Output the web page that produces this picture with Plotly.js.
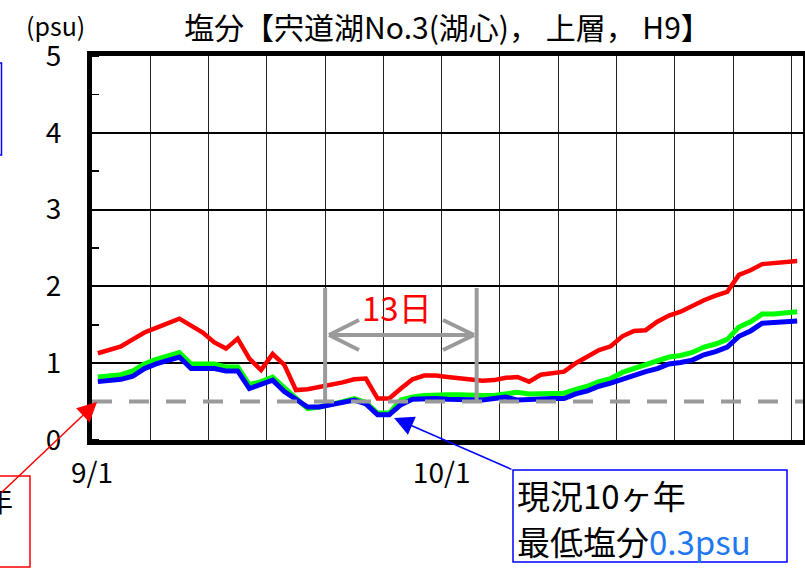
<!DOCTYPE html>
<html>
<head>
<meta charset="utf-8">
<script src="https://cdn.plot.ly/plotly-3.0.1.min.js"></script>
<style>html,body{margin:0;padding:0;background:#fff;}</style>
</head>
<body>
<div id="chart" style="width:805px;height:568px;"></div>
<script>
// Days 9/1 .. 10/31 (H9 = 1997)
const dates = [
 '1997-09-01','1997-09-02','1997-09-03','1997-09-04','1997-09-05','1997-09-06','1997-09-07','1997-09-08','1997-09-09','1997-09-10',
 '1997-09-11','1997-09-12','1997-09-13','1997-09-14','1997-09-15','1997-09-16','1997-09-17','1997-09-18','1997-09-19','1997-09-20',
 '1997-09-21','1997-09-22','1997-09-23','1997-09-24','1997-09-25','1997-09-26','1997-09-27','1997-09-28','1997-09-29','1997-09-30',
 '1997-10-01','1997-10-02','1997-10-03','1997-10-04','1997-10-05','1997-10-06','1997-10-07','1997-10-08','1997-10-09','1997-10-10',
 '1997-10-11','1997-10-12','1997-10-13','1997-10-14','1997-10-15','1997-10-16','1997-10-17','1997-10-18','1997-10-19','1997-10-20',
 '1997-10-21','1997-10-22','1997-10-23','1997-10-24','1997-10-25','1997-10-26','1997-10-27','1997-10-28','1997-10-29','1997-10-30',
 '1997-10-31'
];
const redSeries = [
 1.13,1.17,1.22,1.31,1.40,1.46,1.52,1.58,1.49,1.40,
 1.27,1.19,1.32,1.06,0.91,1.12,0.98,0.65,0.66,0.69,
 0.71,0.75,0.79,0.80,0.54,0.54,0.67,0.79,0.84,0.84,
 0.82,0.80,0.78,0.77,0.78,0.81,0.82,0.76,0.85,0.87,
 0.89,1.00,1.08,1.17,1.22,1.35,1.42,1.43,1.54,1.62,
 1.67,1.75,1.82,1.88,1.93,2.15,2.21,2.29,2.30,2.32,
 2.33
];
const greenSeries = [
 0.82,0.83,0.85,0.90,0.99,1.05,1.10,1.14,0.99,0.99,
 0.99,0.95,0.95,0.72,0.76,0.82,0.69,0.54,0.41,0.43,
 0.46,0.50,0.54,0.49,0.35,0.35,0.52,0.56,0.58,0.59,
 0.59,0.59,0.58,0.58,0.58,0.60,0.62,0.60,0.60,0.60,
 0.61,0.66,0.70,0.76,0.80,0.88,0.93,0.97,1.03,1.08,
 1.10,1.14,1.21,1.25,1.31,1.47,1.54,1.64,1.64,1.65,
 1.67
];
const blueSeries = [
 0.76,0.78,0.79,0.83,0.93,0.99,1.04,1.08,0.93,0.93,
 0.93,0.90,0.90,0.67,0.72,0.78,0.63,0.52,0.43,0.43,
 0.46,0.50,0.52,0.47,0.33,0.33,0.46,0.53,0.54,0.54,
 0.53,0.53,0.53,0.52,0.54,0.56,0.52,0.53,0.53,0.54,
 0.54,0.60,0.64,0.70,0.74,0.79,0.85,0.89,0.93,0.99,
 1.01,1.04,1.11,1.15,1.21,1.35,1.42,1.52,1.53,1.54,
 1.55
];
const gridDates = ['1997-09-01','1997-09-06','1997-09-11','1997-09-16','1997-09-21','1997-09-26',
 '1997-10-01','1997-10-06','1997-10-11','1997-10-16','1997-10-21','1997-10-26','1997-10-31'];
const gridLabels = ['9/1','','','','','','10/1','','','','','',''];
const yTicks = [0,1,2,3,4,5];
const threshold = 0.5;
const spanStart = '1997-09-21';
const spanEnd = '1997-10-04';

const FONT = '"Noto Sans CJK JP", "Noto Sans", sans-serif';
// plot area in pixels: left 92, right 803, top 56, bottom 440
const L = 92, R = 803, T = 56, B = 440;
const px = x => (x - L) / (R - L);
const py = y => (B - y) / (B - T);

const common = {x: dates, mode: 'lines', xperiod: 86400000, xperiodalignment: 'middle',
  hoverinfo: 'skip', showlegend: false};
const traces = [
  Object.assign({}, common, {y: redSeries, line: {color: '#ff0000', width: 4.5}}),
  Object.assign({}, common, {y: greenSeries, line: {color: '#00ff00', width: 5}}),
  Object.assign({}, common, {y: blueSeries, line: {color: '#0000ff', width: 5}})
];

const gray = '#9a9a9a';
const shapes = [
  // threshold dashed line
  {type: 'line', xref: 'paper', x0: 0, x1: 1, yref: 'y', y0: threshold, y1: threshold,
   line: {color: gray, width: 4, dash: '20px,17px'}},
  // 13-day bracket verticals
  {type: 'line', xref: 'x', x0: spanStart, x1: spanStart, yref: 'paper', y0: py(402), y1: py(288),
   line: {color: gray, width: 4}},
  {type: 'line', xref: 'x', x0: spanEnd, x1: spanEnd, yref: 'paper', y0: py(402), y1: py(288),
   line: {color: gray, width: 4}},
  // horizontal double arrow
  {type: 'line', xref: 'paper', yref: 'paper', x0: px(330), x1: px(473), y0: py(335), y1: py(335),
   line: {color: gray, width: 4}},
  {type: 'line', xref: 'paper', yref: 'paper', x0: px(329), x1: px(359), y0: py(335), y1: py(320),
   line: {color: gray, width: 4}},
  {type: 'line', xref: 'paper', yref: 'paper', x0: px(329), x1: px(359), y0: py(335), y1: py(350),
   line: {color: gray, width: 4}},
  {type: 'line', xref: 'paper', yref: 'paper', x0: px(474), x1: px(443), y0: py(335), y1: py(320),
   line: {color: gray, width: 4}},
  {type: 'line', xref: 'paper', yref: 'paper', x0: px(474), x1: px(443), y0: py(335), y1: py(350),
   line: {color: gray, width: 4}},
  // blue box top-left (cut off)
  {type: 'rect', xref: 'paper', yref: 'paper', x0: px(-60), x1: px(1.5), y0: py(155), y1: py(63),
   line: {color: '#0000ff', width: 1.5}, fillcolor: 'rgba(0,0,0,0)'},
  // red box bottom-left (cut off)
  {type: 'rect', xref: 'paper', yref: 'paper', x0: px(-60), x1: px(30), y0: py(567), y1: py(476),
   line: {color: '#ff0000', width: 1.5}, fillcolor: 'rgba(0,0,0,0)'},
  // blue box bottom-right
  {type: 'rect', xref: 'paper', yref: 'paper', x0: px(513), x1: px(787), y0: py(562), y1: py(470),
   line: {color: '#0000ff', width: 1.5}, fillcolor: 'rgba(0,0,0,0)'}
];

const annotations = [
  {text: '(psu)', xref: 'paper', yref: 'paper', x: px(55), y: py(25), xanchor: 'center', yanchor: 'middle',
   showarrow: false, font: {family: FONT, size: 25, color: '#000'}},
  {text: '13日', xref: 'paper', yref: 'paper', x: px(397), y: py(307), xanchor: 'center', yanchor: 'middle',
   showarrow: false, font: {family: FONT, size: 33, color: '#ff0000'}},
  {text: '年', xref: 'paper', yref: 'paper', x: px(15), y: py(500), xanchor: 'right', yanchor: 'middle',
   showarrow: false, font: {family: FONT, size: 28, color: '#000'}},
  {text: '現況10ヶ年', xref: 'paper', yref: 'paper',
   x: px(515), y: py(495), xanchor: 'left', yanchor: 'middle', align: 'left', showarrow: false,
   font: {family: FONT, size: 33, color: '#000'}},
  {text: '最低塩分<span style="color:#1e78f0">0.3psu</span>', xref: 'paper', yref: 'paper',
   x: px(515), y: py(541), xanchor: 'left', yanchor: 'middle', align: 'left', showarrow: false,
   font: {family: FONT, size: 33, color: '#000'}},
  // red arrow
  {text: '', xref: 'paper', yref: 'paper', x: px(97), y: py(402), ax: -120, ay: 92,
   showarrow: true, arrowhead: 2, arrowsize: 2.6, arrowwidth: 1.5, arrowcolor: '#ff0000'},
  // blue arrow
  {text: '', xref: 'paper', yref: 'paper', x: px(394), y: py(418), ax: 119, ay: 52,
   showarrow: true, arrowhead: 2, arrowsize: 2.6, arrowwidth: 1.5, arrowcolor: '#0000ff'}
];

const layout = {
  width: 805, height: 568,
  margin: {l: L, r: 805 - R, t: T, b: 568 - B, pad: 0},
  paper_bgcolor: '#fff', plot_bgcolor: '#fff',
  font: {family: FONT, color: '#000'},
  title: {text: '塩分【宍道湖No.3(湖心)， 上層， H9】', xref: 'paper', x: 0.5, xanchor: 'center',
          yref: 'container', y: 1 - 28 / 568, yanchor: 'middle', font: {family: FONT, size: 30, color: '#000'}},
  showlegend: false,
  hovermode: false,
  xaxis: {type: 'date', range: ['1997-09-01', '1997-11-01'], tickmode: 'array', tickvals: gridDates,
          ticktext: gridLabels, showgrid: true, gridcolor: '#222', gridwidth: 1, zeroline: false,
          showline: true, linecolor: '#000', linewidth: 5, mirror: true, ticks: '',
          tickfont: {family: FONT, size: 28, color: '#000'}, ticklabelstandoff: 4, fixedrange: true},
  yaxis: {range: [0, 5], tickmode: 'array', tickvals: yTicks, showgrid: true, gridcolor: '#000', gridwidth: 2,
          zeroline: false, showline: true, linecolor: '#000', linewidth: 5, mirror: true, ticks: '',
          minor: {tickmode: 'linear', tick0: 0, dtick: 0.5, ticks: 'inside', ticklen: 7, tickwidth: 1.5,
                  tickcolor: '#000', showgrid: false},
          tickfont: {family: FONT, size: 28, color: '#000'}, ticklabelstandoff: 20, fixedrange: true},
  shapes: shapes,
  annotations: annotations
};

Plotly.newPlot('chart', traces, layout, {staticPlot: true, displayModeBar: false});
</script>
</body>
</html>
